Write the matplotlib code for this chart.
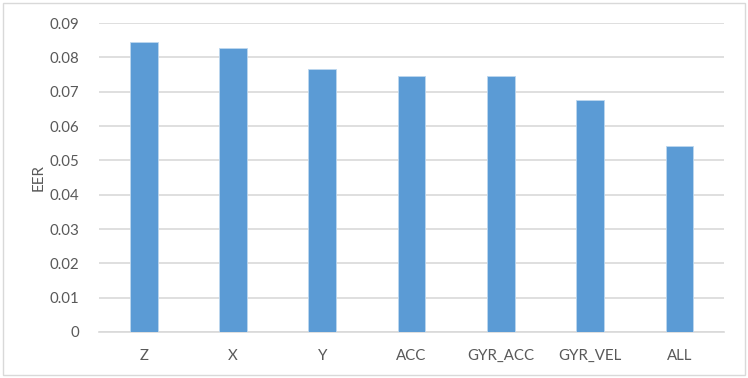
import matplotlib.pyplot as plt
from matplotlib.patches import Rectangle

categories = ['Z', 'X', 'Y', 'ACC', 'GYR_ACC', 'GYR_VEL', 'ALL']
eer = [0.0845, 0.0828, 0.0765, 0.0746, 0.0746, 0.0675, 0.0542]
yticks = [0, 0.01, 0.02, 0.03, 0.04, 0.05, 0.06, 0.07, 0.08, 0.09]
ytick_labels = ['0', '0.01', '0.02', '0.03', '0.04', '0.05', '0.06', '0.07', '0.08', '0.09']

text_color = '#595959'
grid_color = '#d9d9d9'

plt.rcParams['font.family'] = ['Lato', 'DejaVu Sans']

fig = plt.figure(figsize=(7.48, 3.78), dpi=100)
ax = fig.add_axes([0.1324, 0.1217, 0.8356, 0.8173])

x = range(len(categories))
ax.bar(x, eer, width=0.31, color='#5b9bd5', edgecolor='#bdd7ee', linewidth=0.6, zorder=3)

ax.set_xlim(-0.5, len(categories) - 0.5)
ax.set_ylim(0, 0.09)
ax.set_yticks(yticks)
ax.set_yticklabels(ytick_labels)
ax.set_xticks(list(x))
ax.set_xticklabels(categories)
ax.grid(axis='y', color=grid_color, linewidth=1.2, zorder=0)
ax.set_axisbelow(True)
for s in ['top', 'right', 'left']:
    ax.spines[s].set_visible(False)
ax.spines['bottom'].set_color(grid_color)
ax.spines['bottom'].set_linewidth(1.2)
ax.tick_params(axis='both', length=0, colors=text_color, labelsize=10.8)
ax.tick_params(axis='y', pad=14)
ax.tick_params(axis='x', pad=12)
ax.set_ylabel('EER', color=text_color, fontsize=10.8, labelpad=3)

fig.patches.append(Rectangle((0.004, 0.008), 0.992, 0.984, transform=fig.transFigure,
                             fill=False, edgecolor=grid_color, linewidth=1.0))

fig.savefig('out.png', dpi=100)
